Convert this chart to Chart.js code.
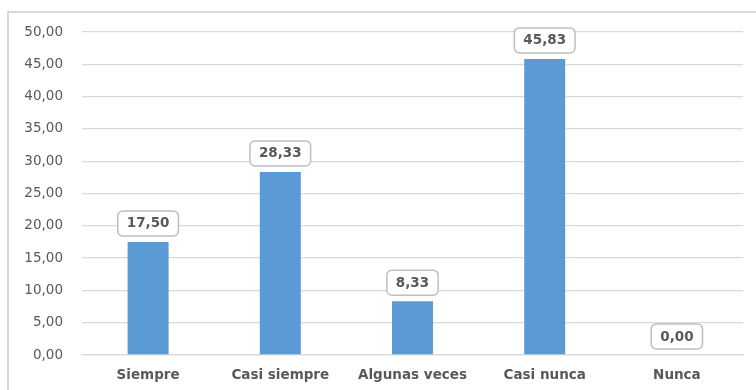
<!DOCTYPE html>
<html>
<head>
<meta charset="utf-8">
<script src="https://cdn.jsdelivr.net/npm/chart.js@4/dist/chart.umd.min.js"></script>
<style>
  html, body { margin: 0; padding: 0; background: #fff; }
  #frame { position: absolute; left: 7px; top: 11px; width: 800px; height: 450px;
           border-left: 2px solid #d9d9d9; border-top: 2px solid #d9d9d9; }
  #wrap { position: absolute; left: 0; top: 0; width: 756px; height: 390px; }
</style>
</head>
<body>
<div id="frame"></div>
<div id="wrap"><canvas id="c" width="756" height="390"></canvas></div>
<script>
const categories = ['Siempre', 'Casi siempre', 'Algunas veces', 'Casi nunca', 'Nunca'];
const values = [17.50, 28.33, 8.33, 45.83, 0.00];

const fmt = v => v.toFixed(2).replace('.', ',');

// Rounded label boxes above each bar showing its value
const valueBoxes = {
  id: 'valueBoxes',
  afterDatasetsDraw(chart) {
    const ctx = chart.ctx;
    const meta = chart.getDatasetMeta(0);
    ctx.save();
    ctx.font = 'bold 13.5px "DejaVu Sans", Verdana, sans-serif';
    ctx.textAlign = 'center';
    ctx.textBaseline = 'middle';
    meta.data.forEach((bar, i) => {
      const text = fmt(values[i]);
      const w = ctx.measureText(text).width + 18;
      const h = 25;
      const x = bar.x - w / 2;
      const y = bar.y - 6 - h;
      ctx.beginPath();
      ctx.roundRect(x, y, w, h, 5);
      ctx.fillStyle = '#ffffff';
      ctx.fill();
      ctx.lineWidth = 1.5;
      ctx.strokeStyle = '#bfbfbf';
      ctx.stroke();
      ctx.fillStyle = '#595959';
      ctx.fillText(text, bar.x, y + h / 2 + 0.5);
    });
    ctx.restore();
  }
};

new Chart(document.getElementById('c'), {
  type: 'bar',
  data: {
    labels: categories,
    datasets: [{
      data: values,
      backgroundColor: '#5b9bd5',
      borderWidth: 0,
      categoryPercentage: 1,
      barPercentage: 0.31
    }]
  },
  options: {
    responsive: false,
    animation: false,
    layout: { padding: { top: 32, right: 13, left: 0, bottom: 0 } },
    plugins: { legend: { display: false }, tooltip: { enabled: false } },
    scales: {
      y: {
        min: 0, max: 50,
        ticks: {
          stepSize: 5,
          padding: 19,
          color: '#595959',
          font: { family: '"DejaVu Sans", Verdana, sans-serif', size: 13.5 },
          callback: v => fmt(v)
        },
        grid: { color: '#d9d9d9', lineWidth: 1.3, drawTicks: false },
        border: { display: false },
        afterFit(scale) { scale.width = 82; }
      },
      x: {
        ticks: {
          padding: 12,
          color: '#595959',
          font: { family: '"DejaVu Sans", Verdana, sans-serif', size: 13.5, weight: 'bold' }
        },
        grid: { display: false, drawTicks: false },
        border: { color: '#d9d9d9', width: 1.3 },
        afterFit(scale) { scale.height = 35; }
      }
    }
  },
  plugins: [valueBoxes]
});
</script>
</body>
</html>
